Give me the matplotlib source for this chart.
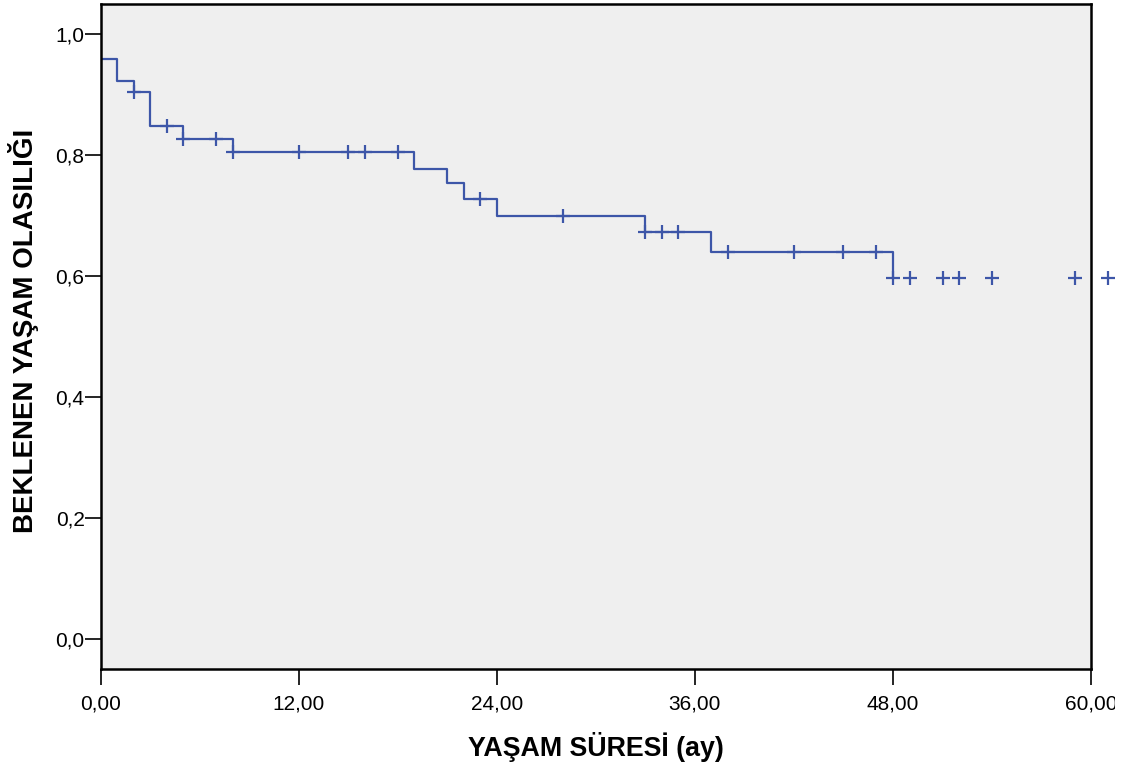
import numpy as np
import matplotlib
matplotlib.use("Agg")
import matplotlib.pyplot as plt
from matplotlib.patches import Rectangle

plt.rcParams['font.family'] = ['Liberation Sans', 'DejaVu Sans']

# Kaplan-Meier step curve
event_times = [0, 1, 2, 3, 5, 8, 19, 21, 22, 24, 33, 37, 48]
survival = [0.960, 0.923, 0.905, 0.848, 0.827, 0.805, 0.778, 0.754,
            0.727, 0.700, 0.673, 0.640, 0.597]

# censored observations (months)
censor_times = [2, 4, 5, 7, 8, 12, 15, 16, 18, 23, 28, 33, 34, 35, 38,
                42, 45, 47, 48, 49, 51, 52, 54, 59, 61]

x_ticks = [0, 12, 24, 36, 48, 60]
x_ticklabels = ['0,00', '12,00', '24,00', '36,00', '48,00', '60,00']
y_ticks = [0.0, 0.2, 0.4, 0.6, 0.8, 1.0]
y_ticklabels = ['0,0', '0,2', '0,4', '0,6', '0,8', '1,0']

line_color = '#3d56a8'

fig = plt.figure(figsize=(11.36, 7.65), dpi=100)
ax = fig.add_axes([0.0885, 0.1255, 0.872, 0.869])
ax.set_facecolor('#efefef')

ax.step(event_times, survival, where='post', color=line_color, lw=1.6)

# survival value at each censoring time
idx = np.searchsorted(event_times, censor_times, side='right') - 1
censor_surv = np.array(survival)[idx]
ax.plot(censor_times, censor_surv, ls='none', marker='+', ms=10, mew=1.6,
        color=line_color, clip_on=False)

ax.set_xlim(0, 60)
ax.set_ylim(-0.05, 1.05)
ax.set_xticks(x_ticks)
ax.set_xticklabels(x_ticklabels)
ax.set_yticks(y_ticks)
ax.set_yticklabels(y_ticklabels)
ax.tick_params(direction='out', length=11.5, width=1.2, labelsize=15)
ax.tick_params(axis='x', pad=7)
ax.tick_params(axis='y', pad=0)

for sp in ax.spines.values():
    sp.set_linewidth(1.8)

ax.set_xlabel('YAŞAM SÜRESİ (ay)', fontsize=19.3, fontweight='bold', labelpad=13)
ax.set_ylabel('BEKLENEN YAŞAM OLASILIĞI', fontsize=20, fontweight='bold')
ax.yaxis.set_label_coords(-0.062, 0.508)

# the original picture is cut at the right edge, below the plot
fig.add_artist(Rectangle((1115 / 1136, 0), 1, 0.1, transform=fig.transFigure,
                         facecolor='white', edgecolor='none', zorder=10))

fig.savefig('out.png', dpi=100)
